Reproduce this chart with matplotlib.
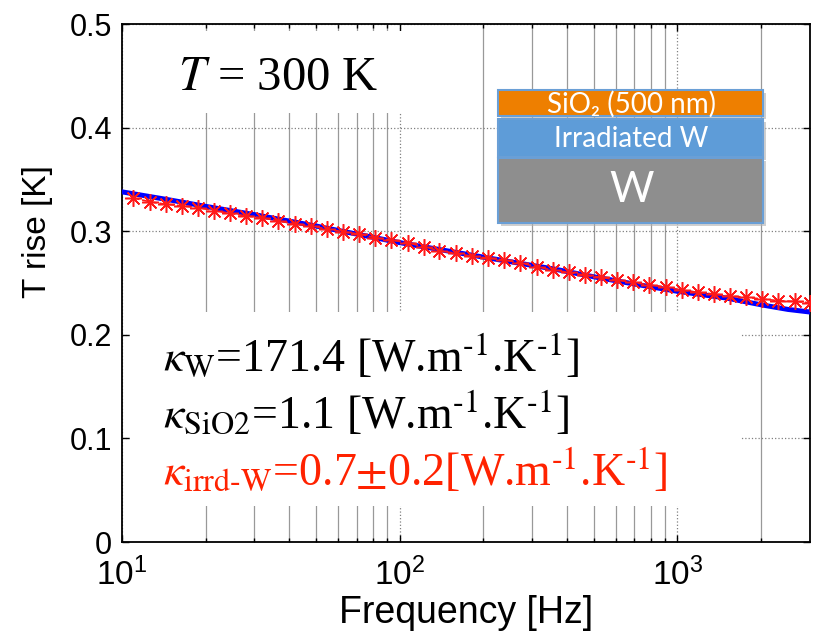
import matplotlib
matplotlib.use("Agg")
import matplotlib.pyplot as plt
from matplotlib.patches import Rectangle
from matplotlib.ticker import FixedLocator, NullFormatter, FixedFormatter

# measured points (red stars)
freq_meas = [11, 12.6, 14.4, 16.4, 18.8, 21.5, 24.5, 28, 32, 36.6, 41.9, 47.9, 54.7, 62.5,
             71.5, 81.7, 93.4, 107, 122, 139, 159, 182, 208, 238, 272, 311, 355, 406, 464,
             531, 607, 693, 793, 906, 1035, 1183, 1353, 1546, 1767, 2020, 2309, 2639, 3000]
T_meas = [0.332, 0.3285, 0.326, 0.3246, 0.3227, 0.320, 0.3173, 0.3147, 0.313, 0.310, 0.307,
          0.3053, 0.302, 0.2995, 0.2973, 0.2937, 0.2915, 0.2889, 0.285, 0.2812, 0.2787,
          0.2758, 0.2742, 0.2722, 0.2696, 0.2655, 0.2625, 0.2603, 0.2577, 0.2555, 0.2529,
          0.2506, 0.2481, 0.2464, 0.2432, 0.2410, 0.2394, 0.2375, 0.2362, 0.2346, 0.2330,
          0.2322, 0.2310]

# fitted curve (blue)
freq_fit = [10, 15, 20, 30, 50, 100, 200, 300, 360, 500, 700, 1000, 1500, 2000, 2500, 3000]
T_fit = [0.338, 0.330, 0.324, 0.316, 0.305, 0.289, 0.275, 0.267, 0.2635, 0.256, 0.249,
         0.242, 0.2355, 0.229, 0.2245, 0.222]

yticks = [0, 0.1, 0.2, 0.3, 0.4, 0.5]
ytick_labels = ["0", "0.1", "0.2", "0.3", "0.4", "0.5"]
xticks = [10, 100, 1000]
xtick_labels = [r"10$^{\mathregular{1}}$", r"10$^{\mathregular{2}}$", r"10$^{\mathregular{3}}$"]

plt.rcParams["mathtext.fontset"] = "stix"
sans = ["Liberation Sans", "DejaVu Sans"]
serif = ["Liberation Serif", "DejaVu Serif"]

fig = plt.figure(figsize=(8.13, 6.34), dpi=100)
ax = fig.add_axes([0.150, 0.1451, 0.8463, 0.8170])

ax.set_xscale("log")
ax.set_xlim(10, 3000)
ax.set_ylim(0, 0.5)

minor = [m * 10 ** e for e in (1, 2, 3) for m in range(2, 10) if m * 10 ** e < 3000]
ax.xaxis.set_major_locator(FixedLocator(xticks))
ax.xaxis.set_major_formatter(FixedFormatter(xtick_labels))
ax.xaxis.set_minor_locator(FixedLocator(minor))
ax.xaxis.set_minor_formatter(NullFormatter())
ax.set_yticks(yticks)
ax.set_yticklabels(ytick_labels)

ax.grid(True, which="major", axis="both", color="#808080", lw=0.9, ls=":")
ax.grid(True, which="minor", axis="x", color="#808080", lw=0.9, ls="-", alpha=0.8)
ax.tick_params(which="both", direction="in", top=True, right=True, width=1.0)
ax.tick_params(which="major", length=5)
ax.tick_params(axis="y", which="major", labelsize=22, pad=7)
ax.tick_params(axis="x", which="major", labelsize=24, pad=11)
ax.tick_params(which="minor", length=3)
for s in ax.spines.values():
    s.set_linewidth(1.3)
for lab in ax.get_xticklabels() + ax.get_yticklabels():
    lab.set_family(sans)

ax.set_xlabel("Frequency [Hz]", fontsize=27, family=sans, labelpad=3)
ax.set_ylabel("T rise [K]", fontsize=24, family=sans)
ax.yaxis.set_label_coords(-0.100, 0.60)

# white text backgrounds hiding the grid
ax.add_patch(Rectangle((0.012, 0.828), 0.44, 0.158, transform=ax.transAxes,
                       facecolor="white", edgecolor="none", zorder=1.8))
ax.add_patch(Rectangle((0.012, 0.0695), 0.886, 0.3745, transform=ax.transAxes,
                       facecolor="white", edgecolor="none", zorder=1.8))

ax.plot(freq_fit, T_fit, color="#0000ff", lw=3.6, zorder=3)
ax.plot(freq_meas, T_meas, color="#ff1a1a", ls="--", lw=1.2, marker=(8, 2, 0),
        ms=12, mew=1.1, zorder=4)

# layer stack inset
layers = [(0.8224, 0.0502, "#ee7f00"), (0.7432, 0.0734, "#5e9cd8"), (0.6158, 0.1255, "#8e8e8e")]
for y0, h, c in layers:
    ax.add_patch(Rectangle((0.5505, y0 - 0.006), 0.3852, h, transform=ax.transAxes,
                           facecolor="#b0b0b0", edgecolor="none", alpha=0.6, zorder=4.5))
    ax.add_patch(Rectangle((0.5465, y0), 0.3852, h, transform=ax.transAxes,
                           facecolor=c, edgecolor="#6a9fd6", lw=1.5, zorder=5))
inset_font = ["Lato", "DejaVu Sans"]
ax.text(0.740, 0.845, "SiO\u2082 (500 nm)", transform=ax.transAxes, ha="center",
        va="center", color="white", fontsize=20, family=inset_font, zorder=6)
ax.text(0.740, 0.779, "Irradiated W", transform=ax.transAxes, ha="center",
        va="center", color="white", fontsize=20, family=inset_font, zorder=6)
ax.text(0.740, 0.680, "W", transform=ax.transAxes, ha="center",
        va="center", color="white", fontsize=31, family=inset_font, zorder=6)

ax.text(0.227, 0.896, r"$T$ = 300 K", transform=ax.transAxes, ha="center",
        va="center", fontsize=35, family=serif, zorder=6)
hy = "\u2010"
unit = r"[W.m$^{\rm " + hy + r"1}$.K$^{\rm " + hy + r"1}$]"
ax.text(0.06, 0.357, r"$\kappa_{\rm W}$=171.4 " + unit,
        transform=ax.transAxes, ha="left", va="center", fontsize=33, family=serif, zorder=6)
ax.text(0.06, 0.247, r"$\kappa_{\rm SiO2}$=1.1 " + unit,
        transform=ax.transAxes, ha="left", va="center", fontsize=33, family=serif, zorder=6)
ax.text(0.06, 0.137, r"$\kappa_{\rm irrd" + hy + r"W}$=0.7$\pm$0.2" + unit,
        transform=ax.transAxes, ha="left", va="center", fontsize=33, family=serif,
        color="#ff2200", zorder=6)

fig.savefig("out.png", dpi=100)
